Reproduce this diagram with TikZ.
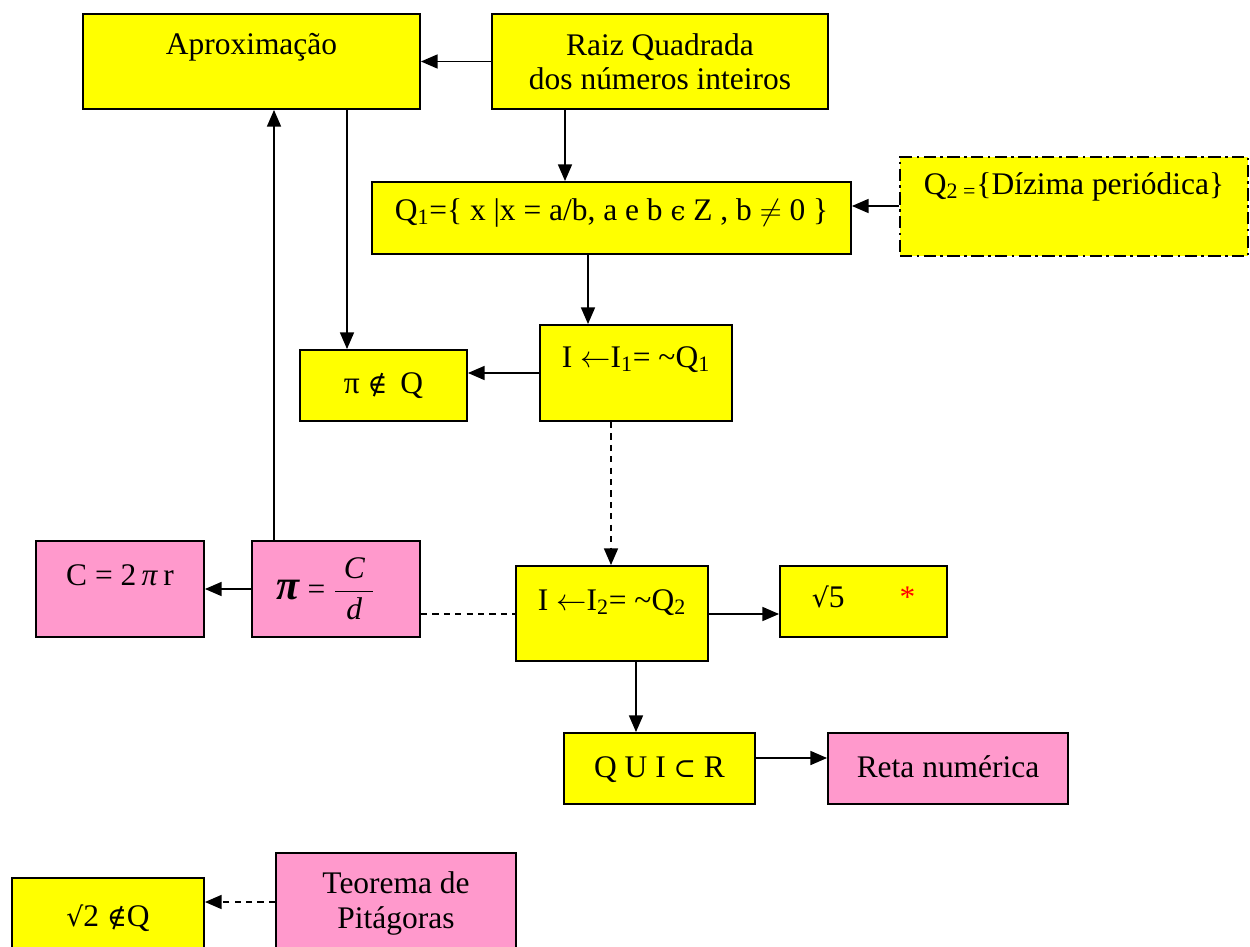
\documentclass[tikz,border=0pt]{standalone}
\usepackage{fontspec}
\setmainfont{Liberation Serif}
\newfontfamily\symb[Scale=0.85]{DejaVu Serif}
\usetikzlibrary{arrows.meta}

\definecolor{yellowbox}{RGB}{255,255,0}
\definecolor{pinkbox}{RGB}{255,153,204}
\tikzset{
  ybox/.style={draw=black, line width=1.1pt, fill=yellowbox, inner sep=0pt, align=center},
  pbox/.style={draw=black, line width=1.1pt, fill=pinkbox, inner sep=0pt, align=center},
  arr/.style={line width=0.85pt, -{Triangle[length=9.5pt,width=8pt]}},
  darr/.style={arr, dash pattern=on 3.5pt off 3pt},
}

\begin{document}
\begin{tikzpicture}[x=0.02cm, y=-0.02cm, font=\fontsize{17.9}{19.9}\selectfont]
\useasboundingbox (0,0) rectangle (1250,946);

\node[ybox, minimum width=6.74cm, text height=0.82cm, text depth=1.08cm] (aprox) at (251.5,61.5) {Aproximação};
\node[ybox, minimum width=6.72cm, text height=1.52cm, text depth=0.38cm] (raiz) at (660,61.5) {Raiz Quadrada\\dos números inteiros};
\node[ybox, minimum width=9.58cm, text height=0.76cm, text depth=0.68cm] (qone) at (611.5,218) {Q\textsubscript{1}=\{ x |x = a/b, a e b {\symb ϵ} Z , b $\neq$ 0 \}};
\node[ybox, minimum width=6.96cm, text height=0.74cm, text depth=1.24cm, dash pattern=on 7pt off 2.5pt on 1.5pt off 2.5pt] (qtwo) at (1074,206.5) {Q\textsubscript{2 =}\{Dízima periódica\}};
\node[ybox, minimum width=3.84cm, text height=0.84cm, text depth=1.08cm] (ione) at (636,373) {I $\leftarrow$I\textsubscript{1}= \char`\~Q\textsubscript{1}};
\node[ybox, minimum width=3.34cm, text height=0.86cm, text depth=0.56cm] (pinq) at (383.5,385.5) {π {\symb ∉}\, Q};
\node[pbox, minimum width=3.36cm, text height=1.16cm, text depth=0.76cm] (pifrac) at (336,589) {{\fontsize{24}{24}\selectfont\bfseries\itshape π} = $\displaystyle\frac{\;\textit{C}\;}{\textit{d}}$\hspace{0.4cm}};
\node[pbox, minimum width=3.36cm, text height=0.88cm, text depth=1.04cm] (circ) at (120,589) {C = 2\,\textit{π}\,r};
\node[ybox, minimum width=3.84cm, text height=0.88cm, text depth=1.02cm] (itwo) at (612,613.5) {I $\leftarrow$I\textsubscript{2}= \char`\~Q\textsubscript{2}};
\node[ybox, minimum width=3.34cm, text height=0.82cm, text depth=0.6cm] (sqfive) at (863.5,601.5) {{\symb √}5\hspace{1.1cm}{\color{red}*}};
\node[ybox, minimum width=3.82cm, text height=0.88cm, text depth=0.54cm] (qir) at (659.5,768.5) {Q U I {\symb ⊂} R};
\node[pbox, minimum width=4.8cm, text height=0.88cm, text depth=0.54cm] (reta) at (948,768.5) {Reta numérica};
\node[ybox, minimum width=3.84cm, text height=0.96cm, text depth=0.52cm] (sqtwo) at (108,915) {{\symb √}2 {\symb ∉}Q};
\node[pbox, minimum width=4.8cm, text height=1.5cm, text depth=0.48cm] (teorema) at (396,902.5) {Teorema de\\Pitágoras};

\draw[arr] (raiz.west) -- (aprox.east);
\draw[arr] (raiz.south -| 565,0) -- (qone.north -| 565,0);
\draw[arr] (qtwo.west |- 0,206) -- (qone.east |- 0,206);
\draw[arr] (qone.south -| 588,0) -- (ione.north -| 588,0);
\draw[arr] (ione.west) -- (pinq.east |- ione.west);
\draw[arr] (aprox.south -| 347,0) -- (pinq.north -| 347,0);
\draw[arr] (pifrac.north -| 274,0) -- (aprox.south -| 274,0);
\draw[arr] (pifrac.west) -- (circ.east);
\draw[darr] (ione.south -| 611,0) -- (itwo.north -| 611,0);
\draw[line width=0.85pt, dash pattern=on 3.5pt off 3pt] (pifrac.east |- 0,614) -- (itwo.west |- 0,614);
\draw[arr] (itwo.east |- 0,614) -- (sqfive.west |- 0,614);
\draw[arr] (itwo.south -| 636,0) -- (qir.north -| 636,0);
\draw[arr] (qir.east |- 0,758) -- (reta.west |- 0,758);
\draw[darr] (teorema.west |- 0,902) -- (sqtwo.east |- 0,902);

\end{tikzpicture}
\end{document}
